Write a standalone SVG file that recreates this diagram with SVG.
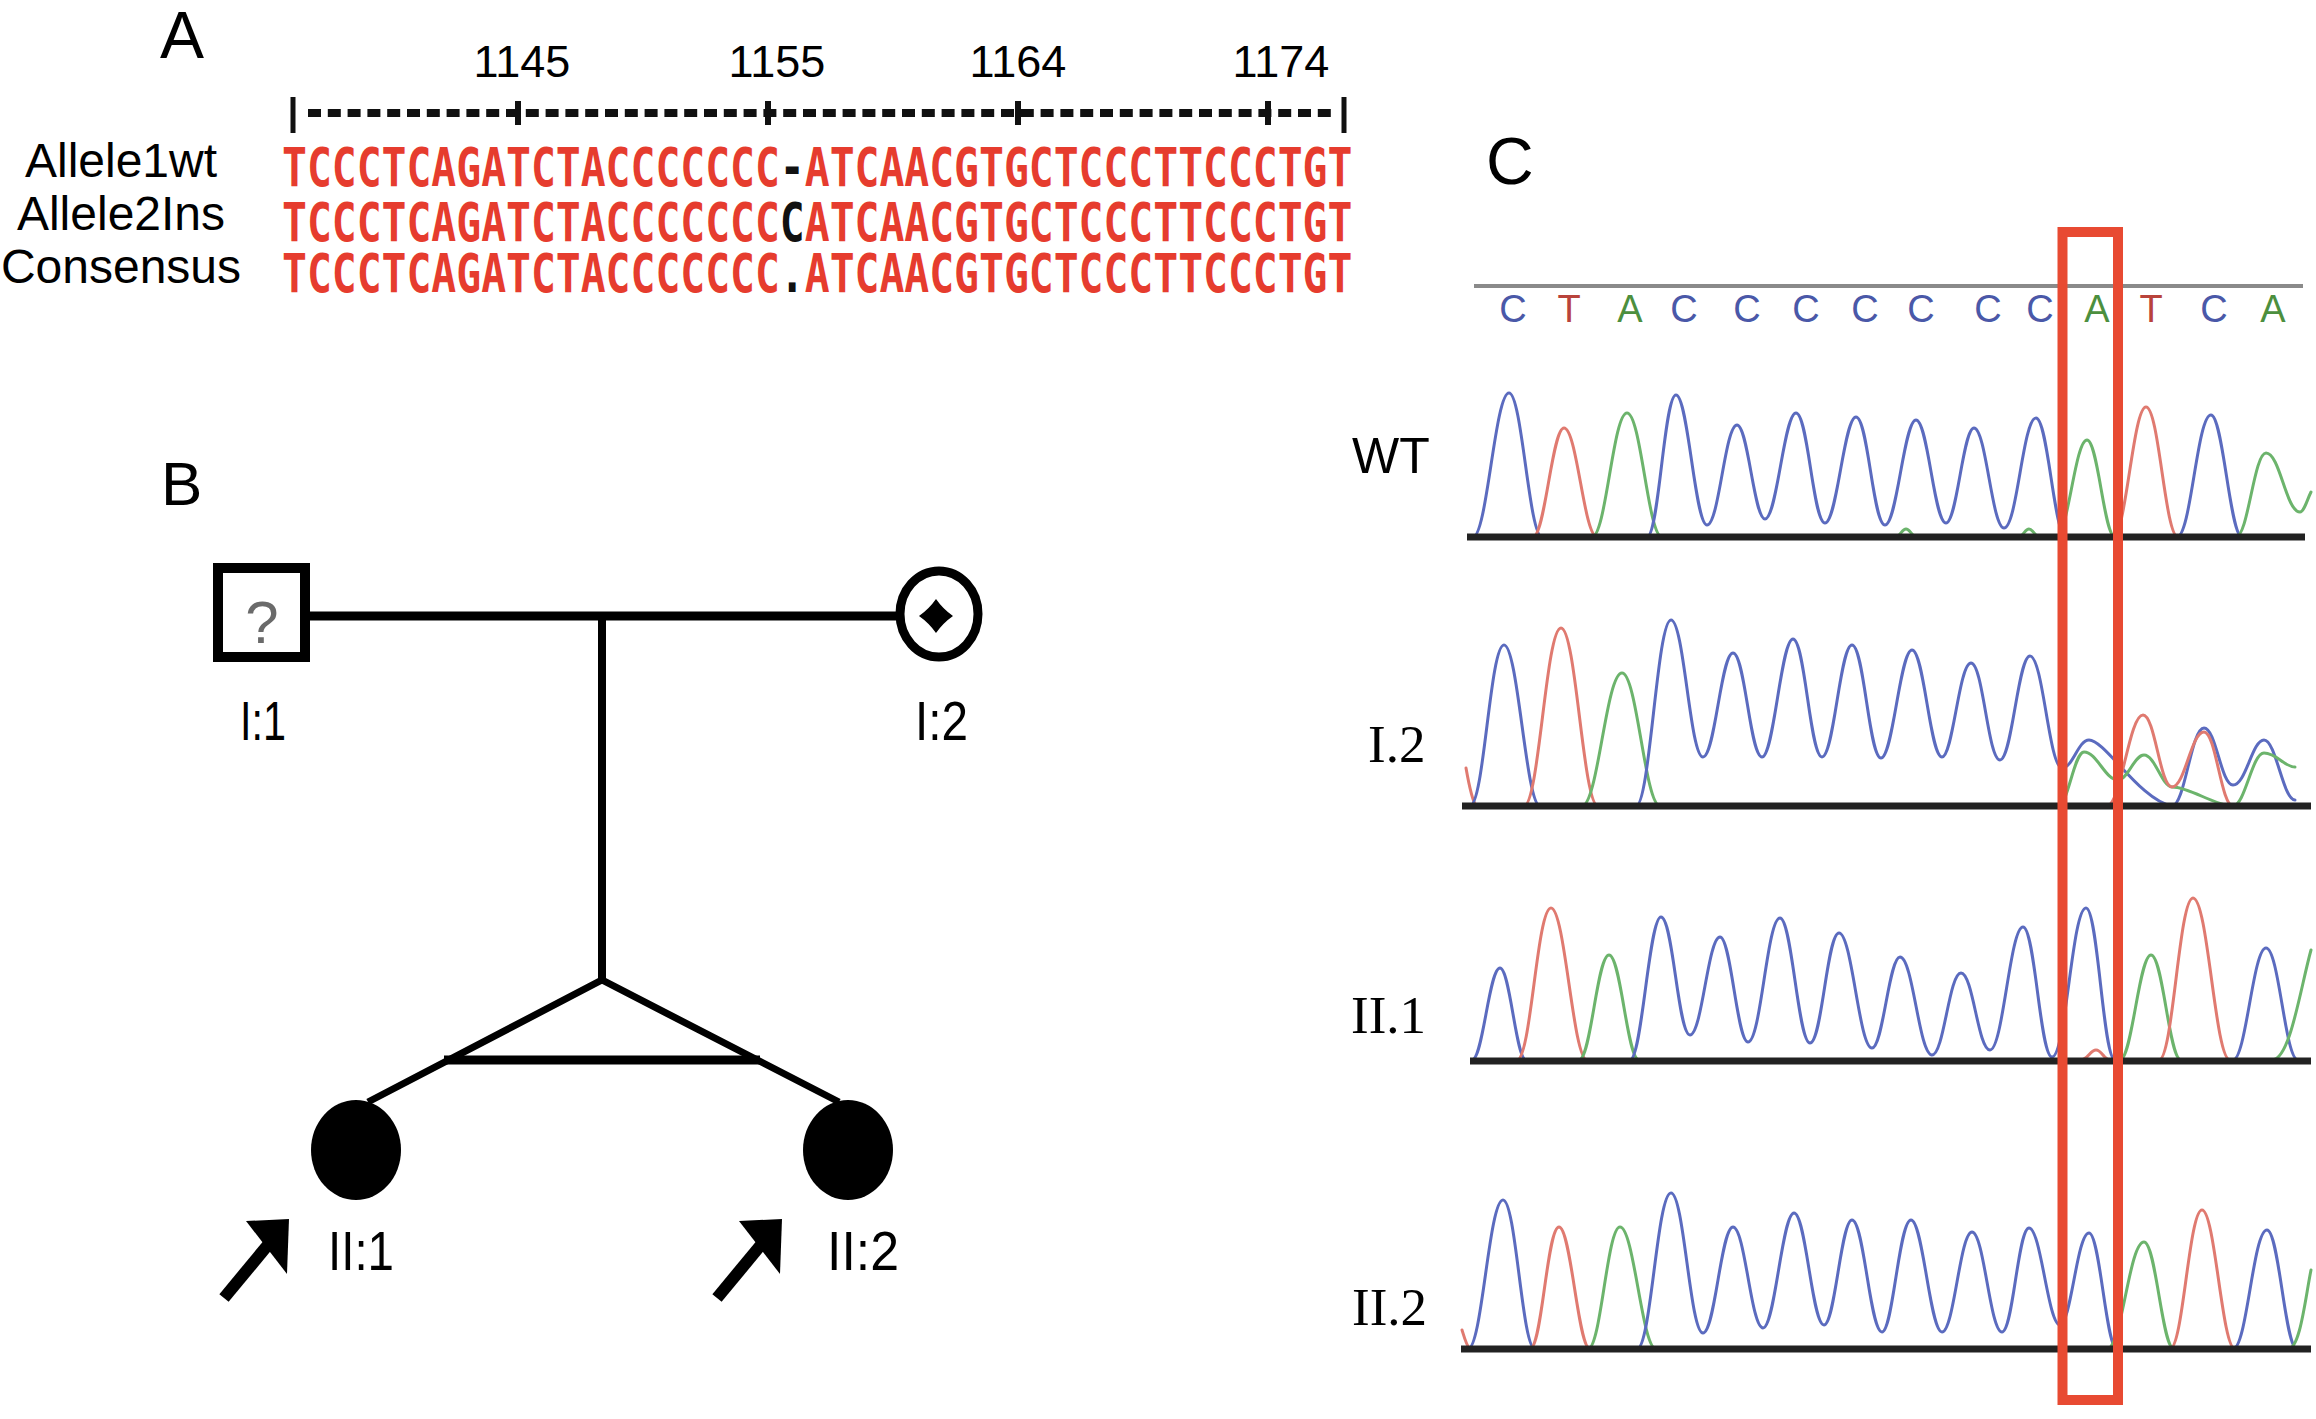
<svg xmlns="http://www.w3.org/2000/svg" width="2316" height="1419" viewBox="0 0 2316 1419">
<style>
.sans{font-family:"Liberation Sans",Arial,sans-serif;fill:#000}
.serif{font-family:"Liberation Serif","Times New Roman",serif;fill:#000}
.panel{font-size:66px}
.num{font-size:45px;text-anchor:middle}
.rowlbl{font-size:48px;text-anchor:middle}
.seq{font-family:"DejaVu Sans Mono","Liberation Mono",monospace;font-weight:bold;font-size:54px;fill:#e63c2e}
.k{fill:#111}
.ped{font-size:55px}
.edge{stroke:#000;fill:none;stroke-linecap:butt}
.base{stroke:#222;stroke-width:7}
.tr{fill:none;stroke-width:3;stroke-linejoin:round;stroke-linecap:round}
.b{stroke:#5b6bbf}.r{stroke:#e07a70}.g{stroke:#6cb46c}
.bc{fill:#4a58a8}.tc{fill:#b9433b}.ac{fill:#4c8f3e}
.blet{font-family:"Liberation Sans",Arial,sans-serif;font-size:38px;text-anchor:middle}
.slbl{font-size:53px}
</style>

<!-- Panel A -->
<g id="panelA">
  <text class="sans panel" x="160" y="58">A</text>
  <text class="sans num" x="522" y="77">1145</text>
  <text class="sans num" x="777" y="77">1155</text>
  <text class="sans num" x="1018" y="77">1164</text>
  <text class="sans num" x="1281" y="77">1174</text>
  <g id="ruler">
    <line x1="293" y1="97" x2="293" y2="133" stroke="#111" stroke-width="5"/>
    <line x1="1344" y1="97" x2="1344" y2="133" stroke="#111" stroke-width="5"/>
    <line x1="308" y1="113" x2="1337" y2="113" stroke="#111" stroke-width="8" stroke-dasharray="13 6.8"/>
    <line x1="518" y1="101" x2="518" y2="125" stroke="#111" stroke-width="6"/>
    <line x1="768" y1="101" x2="768" y2="125" stroke="#111" stroke-width="6"/>
    <line x1="1018" y1="101" x2="1018" y2="125" stroke="#111" stroke-width="6"/>
    <line x1="1268" y1="101" x2="1268" y2="125" stroke="#111" stroke-width="6"/>
  </g>
  <text class="sans rowlbl"><tspan x="121" y="177">Allele1wt</tspan><tspan x="121" y="230">Allele2Ins</tspan><tspan x="121" y="283">Consensus</tspan></text>
  <text id="alignment" class="seq" transform="translate(282,0) scale(0.766,1)"><tspan x="0" y="186">TCCCTCAGATCTACCCCCCC<tspan class="k">-</tspan>ATCAACGTGCTCCCTTCCCTGT</tspan><tspan x="0" y="241">TCCCTCAGATCTACCCCCCC<tspan class="k">C</tspan>ATCAACGTGCTCCCTTCCCTGT</tspan><tspan x="0" y="292">TCCCTCAGATCTACCCCCCC<tspan class="k">.</tspan>ATCAACGTGCTCCCTTCCCTGT</tspan></text>
</g>

<!-- Panel B -->
<text class="sans" x="161" y="505" font-size="62">B</text>
<g id="connectors">
  <line class="edge" x1="310" y1="616" x2="896" y2="616" stroke-width="9"/>
  <line class="edge" x1="602" y1="616" x2="602" y2="982" stroke-width="8"/>
  <polyline class="edge" points="368,1102 602,980 839,1102" stroke-width="7" stroke-linejoin="miter"/>
  <line class="edge" x1="444" y1="1060" x2="760" y2="1060" stroke-width="9"/>
</g>
<g id="I1">
  <rect x="218" y="568" width="87" height="89" fill="#fff" stroke="#000" stroke-width="10"/>
  <text class="sans" x="262" y="643" font-size="60" text-anchor="middle" style="fill:#6a6a6a">?</text>
  <text class="sans ped" x="240" y="740" textLength="46" lengthAdjust="spacingAndGlyphs">I:1</text>
</g>
<g id="I2">
  <ellipse cx="939" cy="614" rx="39" ry="43" fill="#fff" stroke="#000" stroke-width="9"/>
  <path d="M936,599 Q943,609 953,616 Q943,623 936,633 Q929,623 919,616 Q929,609 936,599 Z" fill="#000"/>
  <text class="sans ped" x="915" y="740" textLength="53" lengthAdjust="spacingAndGlyphs">I:2</text>
</g>
<g id="II1">
  <ellipse cx="356" cy="1150" rx="45" ry="50" fill="#000"/>
  <line x1="224" y1="1298" x2="272" y2="1240" stroke="#000" stroke-width="12"/>
  <polygon points="289,1219 246,1221 287,1274" fill="#000"/>
  <text class="sans ped" x="328" y="1270" textLength="66" lengthAdjust="spacingAndGlyphs">II:1</text>
</g>
<g id="II2">
  <ellipse cx="848" cy="1150" rx="45" ry="50" fill="#000"/>
  <line x1="717" y1="1298" x2="765" y2="1240" stroke="#000" stroke-width="12"/>
  <polygon points="782,1219 739,1221 780,1274" fill="#000"/>
  <text class="sans ped" x="827" y="1270" textLength="72" lengthAdjust="spacingAndGlyphs">II:2</text>
</g>

<!-- Panel C -->
<g id="panelC">
  <text class="sans panel" x="1486" y="184">C</text>
  <line x1="1474" y1="286" x2="2303" y2="286" stroke="#8a8a8a" stroke-width="4"/>
  <g id="calls">
    <text class="blet bc" x="1513" y="322">C</text>
    <text class="blet tc" x="1569" y="322">T</text>
    <text class="blet ac" x="1630" y="322">A</text>
    <text class="blet bc" x="1684" y="322">C</text>
    <text class="blet bc" x="1747" y="322">C</text>
    <text class="blet bc" x="1806" y="322">C</text>
    <text class="blet bc" x="1865" y="322">C</text>
    <text class="blet bc" x="1921" y="322">C</text>
    <text class="blet bc" x="1988" y="322">C</text>
    <text class="blet bc" x="2040" y="322">C</text>
    <text class="blet ac" x="2097" y="322">A</text>
    <text class="blet tc" x="2151" y="322">T</text>
    <text class="blet bc" x="2214" y="322">C</text>
    <text class="blet ac" x="2273" y="322">A</text>
  </g>

  <g id="WT">
    <text class="sans" x="1352" y="473" font-size="50">WT</text>
    <path class="tr b" d="M1473,537 C1487,537 1495,393 1509,393 C1522,393 1529,537 1542,537"/>
    <path class="tr r" d="M1533,537 C1545,537 1552,428 1564,428 C1577,428 1584,537 1597,537"/>
    <path class="tr g" d="M1592,537 C1606,537 1613,413 1627,413 C1641,413 1648,537 1662,537"/>
    <path class="tr b" d="M1647,537 C1659,537 1664,395 1676,395 C1688,395 1695,525 1707,525 C1719,525 1725,425 1737,425 C1748,425 1754,519 1765,519 C1777,519 1784,413 1796,413 C1808,413 1813,523 1825,523 C1837,523 1844,417 1856,417 C1868,417 1873,525 1885,525 C1897,525 1904,420 1916,420 C1928,420 1934,523 1946,523 C1957,523 1963,428 1974,428 C1986,428 1992,528 2004,528 C2017,528 2023,418 2036,418 C2048,418 2054,537 2066,537"/>
    <path class="tr g" d="M1895,537 C1900,537 1902,529 1906,529 C1910,529 1912,537 1917,537 M2018,537 C2023,537 2025,529 2029,529 C2033,529 2035,537 2040,537"/>
    <path class="tr g" d="M2056,537 C2068,537 2075,440 2087,440 C2098,440 2104,537 2115,537"/>
    <path class="tr r" d="M2113,537 C2126,537 2133,407 2146,407 C2159,407 2165,537 2178,537"/>
    <path class="tr b" d="M2177,537 C2191,537 2197,415 2211,415 C2223,415 2230,537 2242,537"/>
    <path class="tr g" d="M2236,537 C2248,537 2254,453 2266,453 C2280,453 2286,512 2300,512 C2304,512 2307,500 2311,492"/>
    <line class="base" x1="1467" y1="537" x2="2305" y2="537"/>
  </g>

  <g id="I_2">
    <text class="serif slbl" x="1368" y="762">I.2</text>
    <path class="tr r" d="M1466,768 C1469,785 1472,800 1476,806"/>
    <path class="tr b" d="M1470,806 C1484,806 1490,645 1504,645 C1518,645 1526,806 1540,806"/>
    <path class="tr r" d="M1524,806 C1539,806 1546,628 1561,628 C1576,628 1583,806 1598,806"/>
    <path class="tr g" d="M1582,806 C1598,806 1606,673 1622,673 C1637,673 1645,806 1660,806"/>
    <path class="tr b" d="M1636,806 C1650,806 1657,620 1671,620 C1684,620 1690,757 1703,757 C1715,757 1721,653 1733,653 C1745,653 1750,757 1762,757 C1774,757 1781,639 1793,639 C1805,639 1810,757 1822,757 C1834,757 1840,645 1852,645 C1864,645 1869,758 1881,758 C1893,758 1900,650 1912,650 C1924,650 1930,757 1942,757 C1953,757 1959,663 1971,663 C1983,663 1988,760 2000,760 C2012,760 2018,656 2030,656 C2043,656 2049,768 2062,768 C2073,768 2078,740 2089,740 C2105,740 2140,800 2172,806 C2185,806 2191,728 2204,728 C2216,728 2221,785 2233,785 C2246,785 2252,740 2264,740 C2276,740 2283,800 2295,800"/>
    <path class="tr g" d="M2058,806 C2068,806 2074,752 2084,752 C2097,752 2105,780 2118,780 C2128,780 2134,755 2144,755 C2155,755 2162,787 2172,787 C2190,787 2215,806 2233,806 C2245,806 2252,753 2264,753 C2277,753 2284,767 2295,767"/>
    <path class="tr r" d="M2107,806 C2121,806 2129,715 2143,715 C2155,715 2160,787 2172,787 C2185,787 2191,732 2204,732 C2216,732 2221,806 2233,806"/>
    <line class="base" x1="1462" y1="806" x2="2311" y2="806"/>
  </g>

  <g id="II_1">
    <text class="serif slbl" x="1351" y="1033">II.1</text>
    <path class="tr b" d="M1472,1060 C1483,1060 1489,968 1500,968 C1510,968 1516,1060 1526,1060"/>
    <path class="tr r" d="M1517,1060 C1531,1060 1537,908 1551,908 C1565,908 1573,1060 1587,1060"/>
    <path class="tr g" d="M1579,1060 C1591,1060 1597,955 1609,955 C1621,955 1627,1060 1639,1060"/>
    <path class="tr b" d="M1630,1060 C1642,1060 1649,917 1661,917 C1673,917 1678,1035 1690,1035 C1702,1035 1708,937 1720,937 C1731,937 1737,1042 1748,1042 C1761,1042 1767,918 1780,918 C1792,918 1798,1043 1810,1043 C1822,1043 1827,933 1839,933 C1852,933 1859,1048 1872,1048 C1883,1048 1889,957 1900,957 C1913,957 1919,1055 1932,1055 C1944,1055 1949,973 1961,973 C1973,973 1978,1050 1990,1050 C2003,1050 2010,927 2023,927 C2035,927 2040,1057 2052,1057 C2066,1057 2072,908 2086,908 C2098,908 2103,1060 2115,1060"/>
    <path class="tr r" d="M2080,1060 C2088,1060 2090,1050 2096,1050 C2102,1050 2104,1060 2110,1060"/>
    <path class="tr g" d="M2120,1060 C2132,1060 2139,955 2151,955 C2163,955 2169,1060 2181,1060"/>
    <path class="tr r" d="M2159,1060 C2173,1060 2179,898 2193,898 C2208,898 2215,1060 2230,1060"/>
    <path class="tr b" d="M2233,1060 C2246,1060 2253,948 2266,948 C2279,948 2285,1060 2298,1060"/>
    <path class="tr g" d="M2272,1060 C2290,1060 2300,990 2311,950"/>
    <line class="base" x1="1470" y1="1061" x2="2311" y2="1061"/>
  </g>

  <g id="II_2">
    <text class="serif slbl" x="1352" y="1325">II.2</text>
    <path class="tr r" d="M1462,1330 C1465,1340 1467,1347 1470,1349"/>
    <path class="tr b" d="M1468,1349 C1482,1349 1489,1200 1503,1200 C1516,1200 1522,1349 1535,1349"/>
    <path class="tr r" d="M1530,1349 C1542,1349 1547,1227 1559,1227 C1571,1227 1578,1349 1590,1349"/>
    <path class="tr g" d="M1588,1349 C1601,1349 1607,1227 1620,1227 C1634,1227 1642,1349 1656,1349"/>
    <path class="tr b" d="M1637,1349 C1651,1349 1657,1193 1671,1193 C1684,1193 1690,1333 1703,1333 C1715,1333 1721,1227 1733,1227 C1745,1227 1751,1328 1763,1328 C1775,1328 1782,1213 1794,1213 C1806,1213 1812,1325 1824,1325 C1835,1325 1841,1220 1852,1220 C1864,1220 1870,1332 1882,1332 C1893,1332 1899,1220 1911,1220 C1923,1220 1930,1332 1942,1332 C1954,1332 1960,1232 1972,1232 C1984,1232 1990,1332 2002,1332 C2013,1332 2018,1228 2029,1228 C2041,1228 2048,1325 2060,1325 C2071,1325 2077,1233 2089,1233 C2100,1233 2106,1349 2117,1349"/>
    <path class="tr g" d="M2107,1349 C2122,1349 2129,1242 2144,1242 C2156,1242 2162,1349 2174,1349"/>
    <path class="tr r" d="M2170,1349 C2183,1349 2189,1210 2202,1210 C2215,1210 2222,1349 2235,1349"/>
    <path class="tr b" d="M2233,1349 C2247,1349 2253,1230 2267,1230 C2279,1230 2285,1349 2297,1349"/>
    <path class="tr g" d="M2288,1349 C2300,1349 2305,1300 2311,1270"/>
    <line class="base" x1="1461" y1="1349" x2="2311" y2="1349"/>
  </g>

  <rect id="highlight" x="2062.5" y="232" width="55.5" height="1168" fill="none" stroke="#e84a32" stroke-width="10"/>
</g>
</svg>
